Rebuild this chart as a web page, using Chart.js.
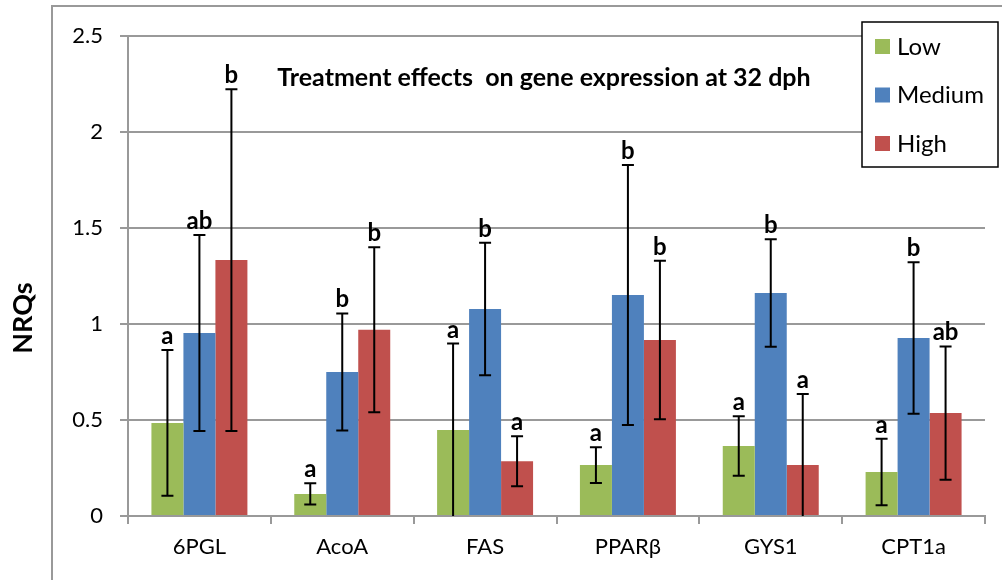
<!DOCTYPE html>
<html>
<head>
  <meta charset="utf-8">
  <title>Treatment effects on gene expression at 32 dph</title>
  <style type="text/css">
    html, body { margin: 0; padding: 0; background: #fff; }
    #wrap { width: 1002px; height: 580px; }
  </style>
</head>
<body>
  <div id="wrap"><canvas id="chart" width="1002" height="580"></canvas></div>
  <script src="https://cdn.jsdelivr.net/npm/chart.js@4.4.1/dist/chart.umd.min.js"></script>
  <script>
    const genes = ['6PGL', 'AcoA', 'FAS', 'PPARβ', 'GYS1', 'CPT1a'];
    const yTicks = [0, 0.5, 1, 1.5, 2, 2.5];

    const low = [0.485, 0.115, 0.448, 0.265, 0.365, 0.229];
    const lowErr = [0.38, 0.055, 0.45, 0.093, 0.155, 0.173];
    const lowLetters = ['a', 'a', 'a', 'a', 'a', 'a'];

    const medium = [0.953, 0.75, 1.078, 1.151, 1.161, 0.927];
    const mediumErr = [0.51, 0.305, 0.345, 0.677, 0.28, 0.395];
    const mediumLetters = ['ab', 'b', 'b', 'b', 'b', 'b'];

    const high = [1.333, 0.97, 0.285, 0.917, 0.266, 0.536];
    const highErr = [0.89, 0.43, 0.13, 0.413, 0.37, 0.347];
    const highLetters = ['b', 'b', 'a', 'b', 'a', 'ab'];

    const FONT = "Lato, 'Open Sans', sans-serif";
    const GRID = '#999999';

    // error bars, letters, title, y label, legend and outer frame
    const extras = {
      id: 'extras',
      beforeDraw(chart) {
        const ctx = chart.ctx;
        ctx.save();
        ctx.strokeStyle = GRID;
        ctx.lineWidth = 2;
        ctx.strokeRect(52, 6, 2000, 2000);
        ctx.restore();
      },
      afterDatasetsDraw(chart) {
        const ctx = chart.ctx;
        const y = chart.scales.y;
        const area = chart.chartArea;
        ctx.save();
        chart.data.datasets.forEach((ds, i) => {
          const meta = chart.getDatasetMeta(i);
          meta.data.forEach((bar, j) => {
            const v = ds.data[j], e = ds.errors[j];
            const top = y.getPixelForValue(v + e);
            const bot = y.getPixelForValue(Math.max(0, v - e));
            ctx.strokeStyle = '#000';
            ctx.lineWidth = 2;
            ctx.beginPath();
            ctx.moveTo(bar.x, top); ctx.lineTo(bar.x, bot);
            ctx.moveTo(bar.x - 6, top); ctx.lineTo(bar.x + 6, top);
            if (v - e > 0) { ctx.moveTo(bar.x - 6, bot); ctx.lineTo(bar.x + 6, bot); }
            ctx.stroke();
            ctx.fillStyle = '#000';
            ctx.font = 'bold 24px ' + FONT;
            ctx.textAlign = 'center';
            ctx.textBaseline = 'alphabetic';
            ctx.fillText(ds.letters[j], bar.x, top - 6);
          });
        });

        // title inside the plot
        ctx.font = 'bold 25px ' + FONT;
        ctx.textAlign = 'center';
        ctx.fillText('Treatment effects  on gene expression at 32 dph', area.left + 416, area.top + 50);

        // y axis label
        ctx.save();
        ctx.translate(23, 318);
        ctx.rotate(-Math.PI / 2);
        ctx.font = 'bold 27px ' + FONT;
        ctx.textBaseline = 'middle';
        ctx.fillText('NRQs', 0, 0);
        ctx.restore();

        // legend
        ctx.fillStyle = '#fff';
        ctx.fillRect(862, 22, 136, 145);
        ctx.strokeStyle = '#000';
        ctx.lineWidth = 1.5;
        ctx.strokeRect(862, 22, 136, 145);
        ctx.textAlign = 'left';
        ctx.textBaseline = 'middle';
        ctx.font = '24px ' + FONT;
        chart.data.datasets.forEach((ds, i) => {
          const cy = 46 + i * 48.5;
          ctx.fillStyle = ds.backgroundColor;
          ctx.fillRect(875, cy - 7, 15, 15);
          ctx.fillStyle = '#000';
          ctx.fillText(ds.label, 897, cy + 1);
        });
        ctx.restore();
      }
    };

    new Chart(document.getElementById('chart'), {
      type: 'bar',
      data: {
        labels: genes,
        datasets: [
          { label: 'Low', data: low, errors: lowErr, letters: lowLetters, backgroundColor: '#9BBB59' },
          { label: 'Medium', data: medium, errors: mediumErr, letters: mediumLetters, backgroundColor: '#4F81BD' },
          { label: 'High', data: high, errors: highErr, letters: highLetters, backgroundColor: '#C0504D' }
        ]
      },
      options: {
        responsive: false,
        animation: false,
        categoryPercentage: 0.672,
        barPercentage: 1,
        layout: { padding: { left: 0, top: 36, right: 17, bottom: 0 } },
        plugins: {
          legend: { display: false },
          title: { display: false },
          tooltip: { enabled: false }
        },
        scales: {
          x: {
            grid: { offset: true, drawOnChartArea: false, tickLength: 8, color: GRID, lineWidth: 2 },
            border: { color: GRID, width: 2 },
            ticks: { color: '#000', font: { family: FONT, size: 22 }, padding: 10 },
            afterFit(s) { s.height = 64; }
          },
          y: {
            min: 0,
            max: 2.5,
            afterBuildTicks(s) { s.ticks = yTicks.map(v => ({ value: v })); },
            grid: { tickLength: 8, color: GRID, lineWidth: 2 },
            border: { color: GRID, width: 2 },
            ticks: { color: '#000', font: { family: FONT, size: 22 }, padding: 17, callback: v => String(v) },
            afterFit(s) { s.width = 128; }
          }
        }
      },
      plugins: [extras]
    });
  </script>
</body>
</html>
